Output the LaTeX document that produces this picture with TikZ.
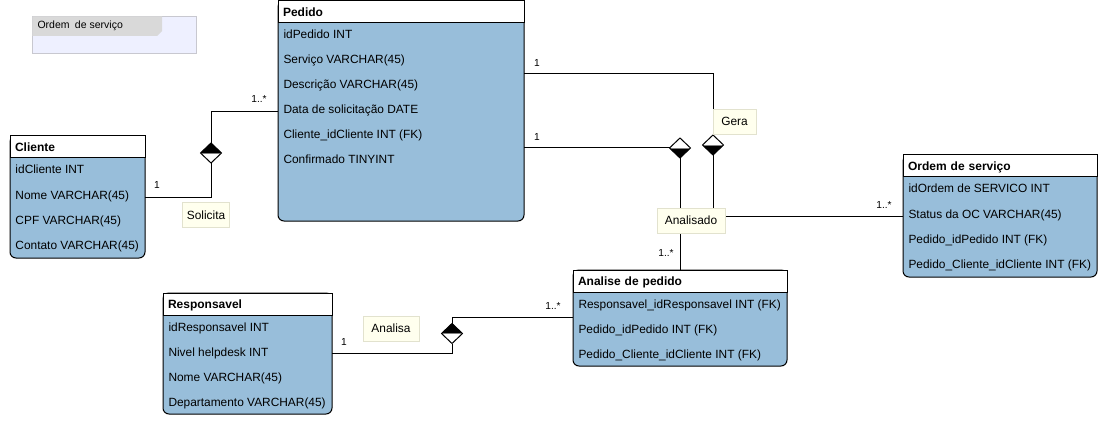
\documentclass[tikz,border=0pt]{standalone}
\usepackage{fontspec}
\setmainfont{Liberation Sans}
\usetikzlibrary{shapes.geometric}
\definecolor{bodyblue}{RGB}{152,190,218}
\definecolor{relfill}{RGB}{255,255,238}
\definecolor{relline}{RGB}{226,226,206}
\definecolor{notefill}{RGB}{238,240,255}
\definecolor{noteline}{RGB}{200,200,208}
\definecolor{tabgray}{RGB}{217,217,217}
\begin{document}
\begin{tikzpicture}[
        x=1pt, y=-1pt, line width=1pt,
        entity/.style={draw, fill=bodyblue, rounded corners=6pt,
            anchor=north west, inner sep=0pt, outer sep=0pt},
        tablehead/.style={draw, fill=white, anchor=north west, minimum height=22pt,
            inner xsep=5pt, inner ysep=0pt, outer sep=0pt, align=left,
            text width=#1, text height=8.6pt, text depth=0pt,
            font=\fontsize{12}{14}\selectfont\bfseries},
        field/.style={anchor=base west, inner sep=0pt,
            font=\fontsize{11.9}{14}\selectfont},
        role/.style={draw=relline, fill=relfill, line width=0.7pt, minimum width=#1,
            minimum height=25pt, inner sep=0pt, font=\fontsize{11.9}{14}\selectfont},
        mult/.style={inner sep=0pt, font=\fontsize{10.2}{12}\selectfont},
        aggtop/.style={diamond, draw, fill=white, minimum width=21pt, minimum height=20pt,
            inner sep=0pt, outer sep=0pt,
            path picture={\fill[black] (path picture bounding box.west) rectangle (path picture bounding box.north east);
                \draw[gray, line width=0.6pt] (path picture bounding box.west) -- (path picture bounding box.east);}},
        aggbottom/.style={diamond, draw, fill=white, minimum width=21pt, minimum height=20pt,
            inner sep=0pt, outer sep=0pt,
            path picture={\fill[black] (path picture bounding box.west) rectangle (path picture bounding box.south east);
                \draw[gray, line width=0.6pt] (path picture bounding box.west) -- (path picture bounding box.east);}},
        note/.style={draw=noteline, fill=notefill, line width=0.8pt, anchor=north west,
            inner sep=0pt, outer sep=0pt}
    ]
        \useasboundingbox (0,0) rectangle (1106,433);

        \node[note, minimum width=164pt, minimum height=37pt] (legenda) at (32,16) {};
        \fill[tabgray] (32.4,16.4) -- (162,16.4) -- (162,31) -- (157,36) -- (32.4,36) -- cycle;
        \node[anchor=west, inner sep=0pt, font=\fontsize{10.5}{12}\selectfont] (legenda-txt) at (37,25.5) {Ordem\hspace{2.5pt} de serviço};

        \node[entity, minimum width=246pt, minimum height=220pt] (pedido) at (278,1) {};
        \node[tablehead=236pt] (pedido-head) at (pedido.north west) {Pedido};
        \node[field] (pedido-1) at (283,38.5) {idPedido INT};
        \node[field] (pedido-2) at (283,63.5) {Serviço VARCHAR(45)};
        \node[field] (pedido-3) at (283,88.5) {Descrição VARCHAR(45)};
        \node[field] (pedido-4) at (283,113.5) {Data de solicitação DATE};
        \node[field] (pedido-5) at (283,138.5) {Cliente\_idCliente INT (FK)};
        \node[field] (pedido-6) at (283,163.5) {Confirmado TINYINT};

        \node[entity, minimum width=135pt, minimum height=122pt] (cliente) at (10,136) {};
        \node[tablehead=125pt] (cliente-head) at (cliente.north west) {Cliente};
        \node[field] (cliente-1) at (15,174) {idCliente INT};
        \node[field] (cliente-2) at (15,199) {Nome VARCHAR(45)};
        \node[field] (cliente-3) at (15,224) {CPF VARCHAR(45)};
        \node[field] (cliente-4) at (15,249) {Contato VARCHAR(45)};

        \node[entity, minimum width=194pt, minimum height=122pt] (ordem) at (903,155) {};
        \node[tablehead=184pt] (ordem-head) at (ordem.north west) {Ordem de serviço};
        \node[field] (ordem-1) at (908,193) {idOrdem de SERVICO INT};
        \node[field] (ordem-2) at (908,218) {Status da OC VARCHAR(45)};
        \node[field] (ordem-3) at (908,243) {Pedido\_idPedido INT (FK)};
        \node[field] (ordem-4) at (908,268) {Pedido\_Cliente\_idCliente INT (FK)};

        \node[entity, minimum width=214pt, minimum height=96pt] (analise) at (573,270) {};
        \node[tablehead=204pt] (analise-head) at (analise.north west) {Analise de pedido};
        \node[field] (analise-1) at (578,308) {Responsavel\_idResponsavel INT (FK)};
        \node[field] (analise-2) at (578,333) {Pedido\_idPedido INT (FK)};
        \node[field] (analise-3) at (578,358) {Pedido\_Cliente\_idCliente INT (FK)};

        \node[entity, minimum width=169pt, minimum height=121pt] (responsavel) at (163,293) {};
        \node[tablehead=159pt] (responsavel-head) at (responsavel.north west) {Responsavel};
        \node[field] (responsavel-1) at (168,331) {idResponsavel INT};
        \node[field] (responsavel-2) at (168,356) {Nivel helpdesk INT};
        \node[field] (responsavel-3) at (168,381) {Nome VARCHAR(45)};
        \node[field] (responsavel-4) at (168,406) {Departamento VARCHAR(45)};

        \node[aggtop] (solicita-d) at (211,153) {};
        \node[aggbottom] (gera-d) at (713,145) {};
        \node[aggbottom] (analisado-d) at (680,148) {};
        \node[aggtop] (analisa-d) at (452,333.5) {};

        \coordinate (solicita-low) at (211,197);
        \coordinate (solicita-high) at (211,112);
        \draw (cliente.east |- solicita-low) -- (solicita-low) -- (solicita-d.south);
        \draw (solicita-d.north) -- (solicita-high) -- (pedido.west |- solicita-high);

        \coordinate (gera-in) at (713,74);
        \coordinate (gera-out) at (713,216);
        \draw (pedido.east |- gera-in) -- (gera-in) -- (gera-d.north);
        \draw (gera-d.south) -- (gera-out) -- (ordem.west |- gera-out);

        \draw (pedido.east |- analisado-d.west) -- (analisado-d.west);
        \draw (analisado-d.south) -- (analise.north -| analisado-d.south);

        \coordinate (analisa-low) at (452,353);
        \coordinate (analisa-high) at (452,317);
        \draw (responsavel.east |- analisa-low) -- (analisa-low) -- (analisa-d.south);
        \draw (analisa-d.north) -- (analisa-high) -- (analise.west |- analisa-high);

        \node[role=47pt] (solicita) at (206,215) {Solicita};
        \node[role=43pt] (gera) at (734.5,121.5) {Gera};
        \node[role=68pt] (analisado) at (691,220.5) {Analisado};
        \node[role=56pt] (analisa) at (391,328.5) {Analisa};

        \node[mult] (solicita-m1) at (157,185) {1};
        \node[mult] (solicita-m2) at (259,99) {1..*};
        \node[mult] (gera-m1) at (537,63) {1};
        \node[mult] (gera-m2) at (884,205) {1..*};
        \node[mult] (analisado-m1) at (537,137) {1};
        \node[mult] (analisado-m2) at (666,253) {1..*};
        \node[mult] (analisa-m1) at (344,342) {1};
        \node[mult] (analisa-m2) at (553,306) {1..*};
    \end{tikzpicture}
\end{document}
